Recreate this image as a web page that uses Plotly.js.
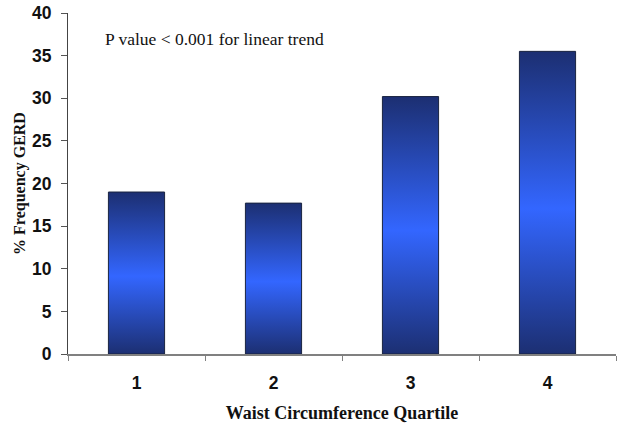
<!DOCTYPE html>
<html>
<head>
<meta charset="utf-8">
<script src="https://cdn.plot.ly/plotly-3.0.1.min.js"></script>
<style>
  html, body { margin: 0; padding: 0; background: #fff; }
  #chart { width: 624px; height: 425px; }
</style>
</head>
<body>
<div id="chart"></div>
<script>
const quartiles = ["1", "2", "3", "4"];
const gerdPercent = [19.0, 17.7, 30.2, 35.5];
const yTicks = [0, 5, 10, 15, 20, 25, 30, 35, 40];
const noteText = "P value < 0.001 for linear trend";

const container = document.getElementById("chart");

const tickFont = { family: "Liberation Sans, Arial, sans-serif", size: 17.5, color: "#111", weight: "bold" };
const serif = "Liberation Serif, Times New Roman, serif";

const trace = {
  type: "bar",
  x: quartiles,
  y: gerdPercent,
  width: 0.41,
  marker: {
    color: "#2f5ce6",
    line: { color: "#1a2440", width: 1 },
  },
  hoverinfo: "none",
};

const layout = {
  width: 624,
  height: 425,
  margin: { t: 13, l: 68, r: 8, b: 71 },
  paper_bgcolor: "#fff",
  plot_bgcolor: "#fff",
  showlegend: false,
  xaxis: {
    type: "category",
    tickson: "boundaries",
    ticks: "outside",
    ticklen: 5,
    tickcolor: "#808080",
    showline: true,
    linecolor: "#808080",
    linewidth: 2,
    showgrid: false,
    tickfont: tickFont,
    ticklabelstandoff: 12,
    title: {
      text: "<b>Waist Circumference Quartile</b>",
      font: { family: serif, size: 18, color: "#111" },
      standoff: 14,
    },
  },
  yaxis: {
    range: [0, 40],
    tickvals: yTicks,
    ticks: "outside",
    ticklen: 6,
    tickcolor: "#555",
    showline: true,
    linecolor: "#444",
    linewidth: 1,
    showgrid: false,
    zeroline: false,
    tickfont: tickFont,
    ticklabelstandoff: 6,
    title: {
      text: "<b>% Frequency GERD</b>",
      font: { family: serif, size: 16, color: "#111" },
      standoff: 2,
    },
  },
  annotations: [
    {
      text: noteText,
      xref: "paper",
      yref: "paper",
      x: 0.063,
      y: 0.923,
      xanchor: "left",
      yanchor: "middle",
      showarrow: false,
      font: { family: serif, size: 17.5, color: "#111" },
    },
  ],
};

Plotly.newPlot(container, [trace], layout, { staticPlot: true }).then(() => {
  // vertical gradient on the bars: dark top and bottom, bright middle
  const svg = container.querySelector(".main-svg");
  const ns = "http://www.w3.org/2000/svg";
  let defs = svg.querySelector("defs");
  if (!defs) {
    defs = document.createElementNS(ns, "defs");
    svg.insertBefore(defs, svg.firstChild);
  }
  const grad = document.createElementNS(ns, "linearGradient");
  grad.setAttribute("id", "barGrad");
  grad.setAttribute("x1", "0");
  grad.setAttribute("y1", "0");
  grad.setAttribute("x2", "0");
  grad.setAttribute("y2", "1");
  [
    ["0%", "#1c2f72"],
    ["52%", "#3366ff"],
    ["100%", "#1c2f72"],
  ].forEach(([off, col]) => {
    const stop = document.createElementNS(ns, "stop");
    stop.setAttribute("offset", off);
    stop.setAttribute("stop-color", col);
    grad.appendChild(stop);
  });
  defs.appendChild(grad);
  container.querySelectorAll(".barlayer .point path").forEach((p) => {
    p.style.fill = "url(#barGrad)";
  });
});
</script>
</body>
</html>
